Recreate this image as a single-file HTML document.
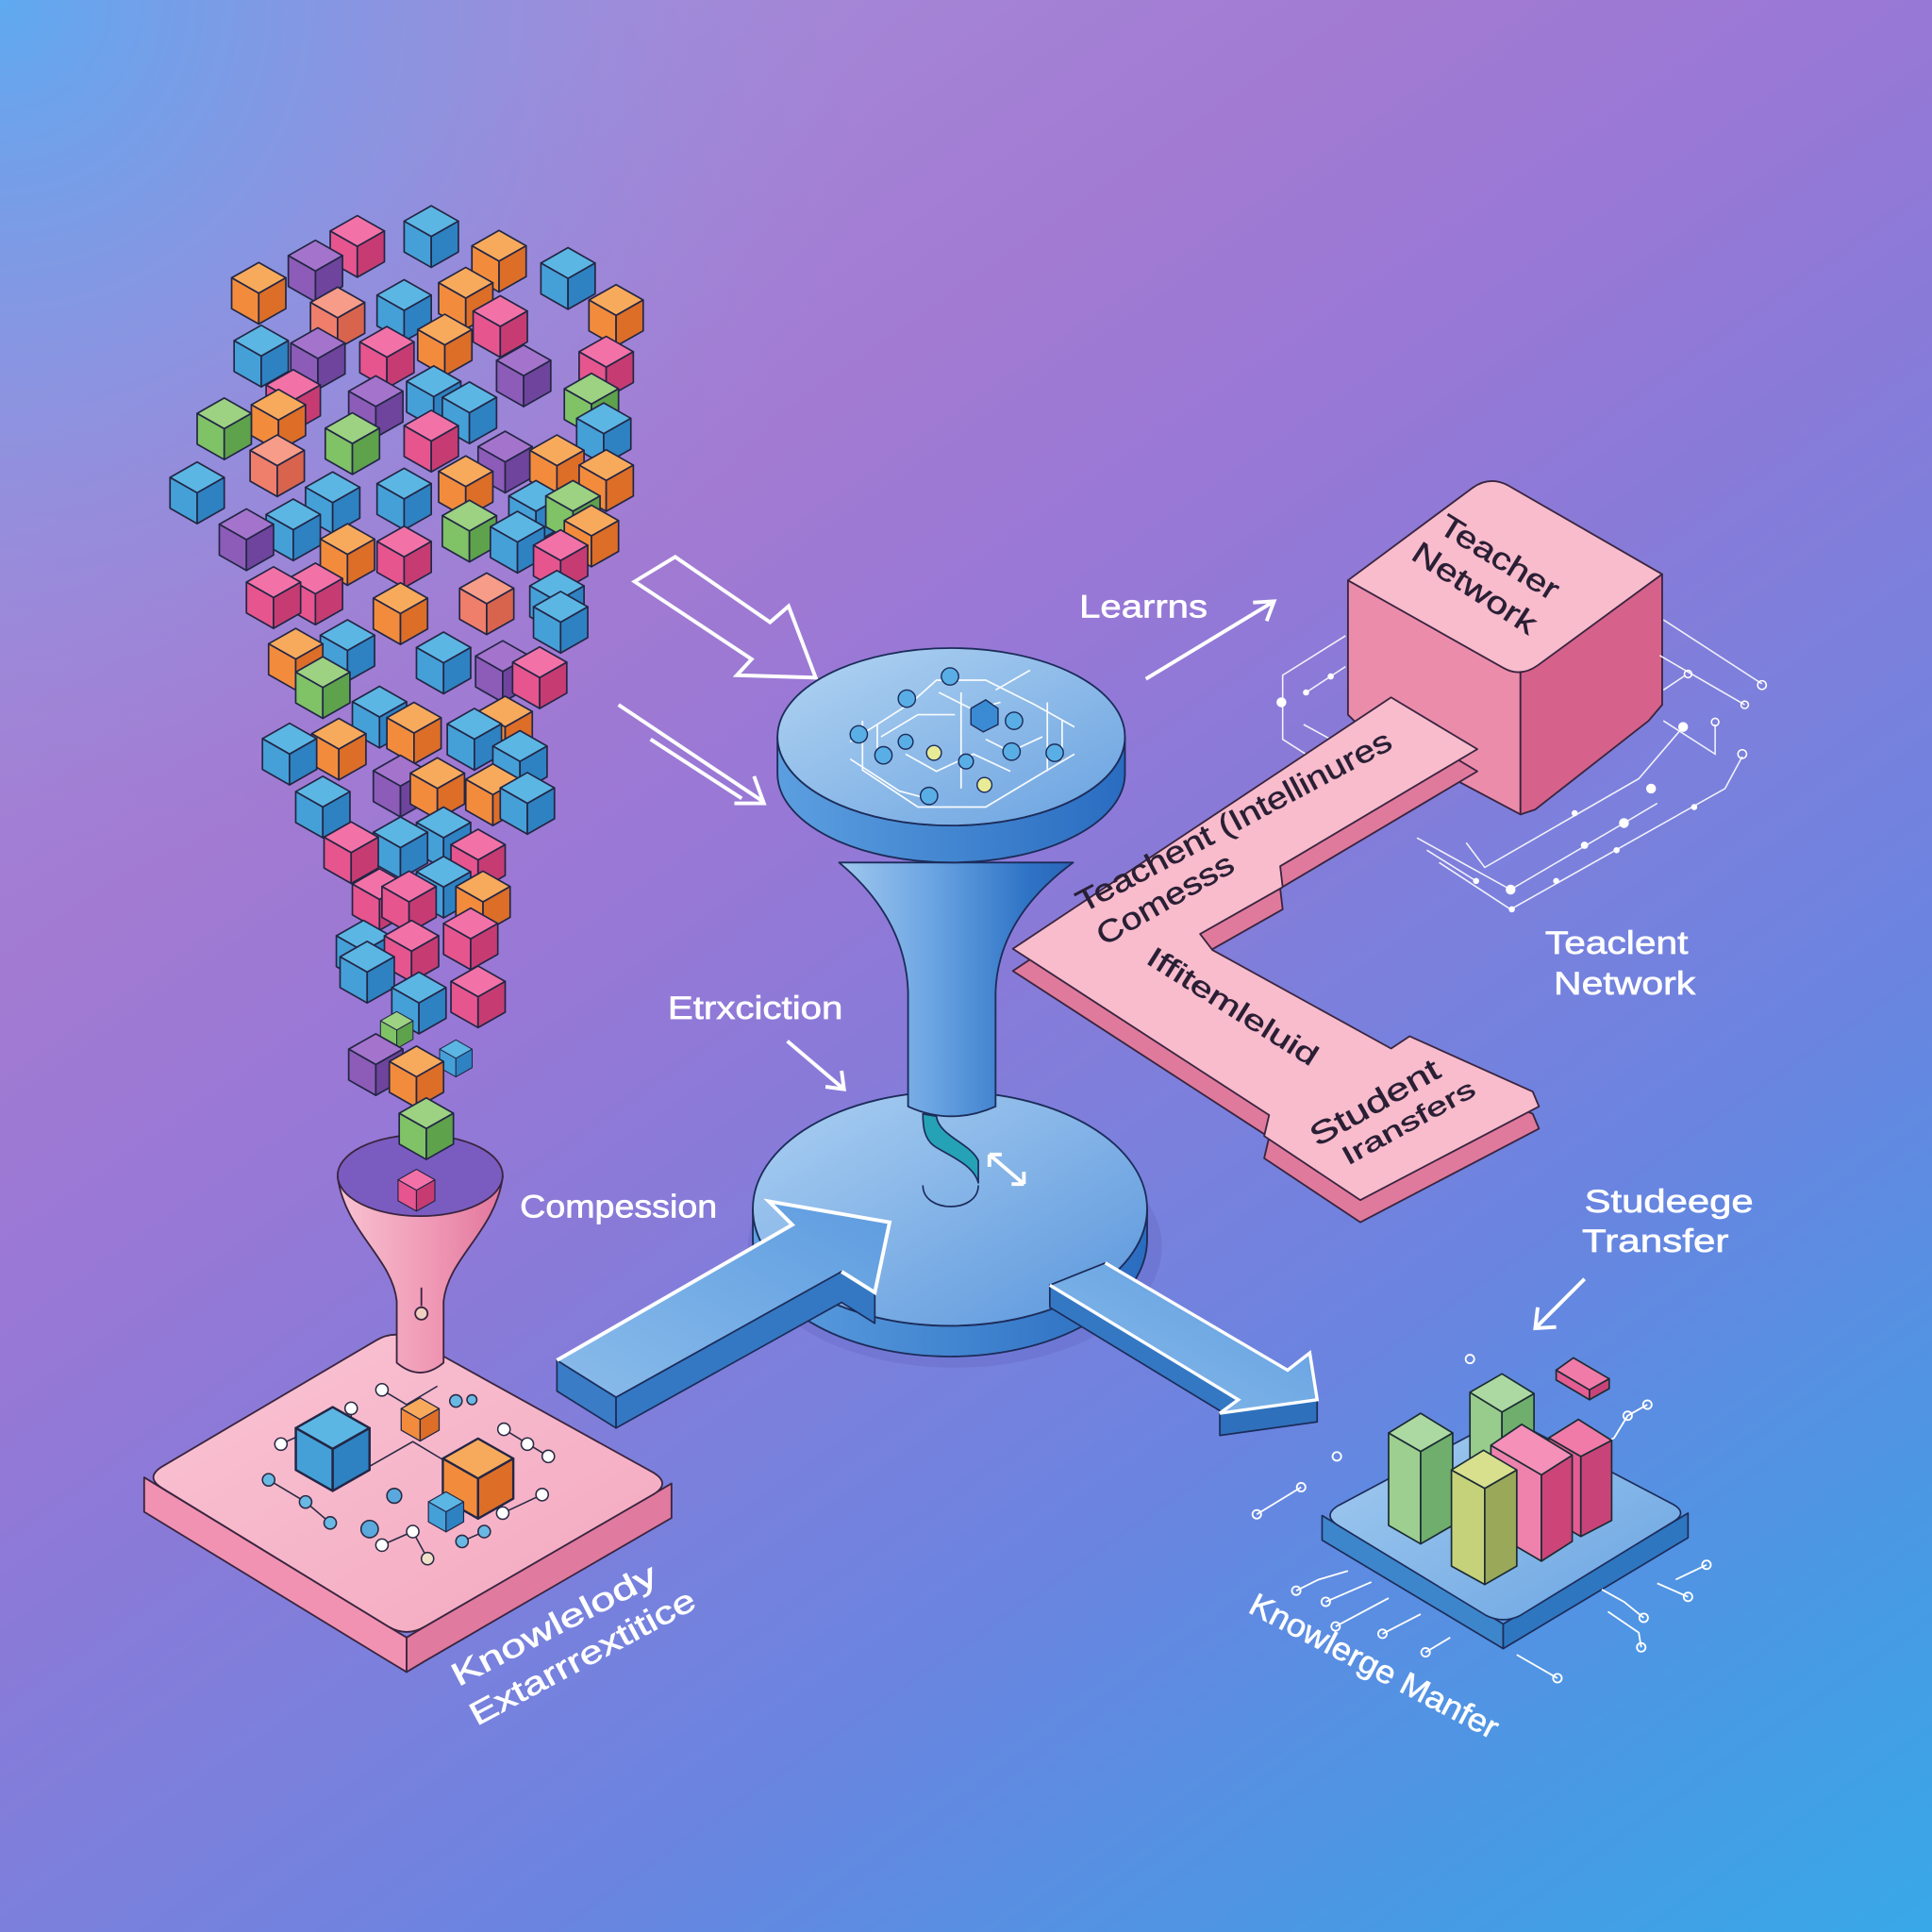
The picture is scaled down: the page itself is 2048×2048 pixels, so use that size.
<!DOCTYPE html>
<html><head><meta charset="utf-8"><style>html,body{margin:0;padding:0;width:2048px;height:2048px;overflow:hidden}svg{display:block}</style></head>
<body>
<svg width="2048" height="2048" viewBox="0 0 1568 1568" xmlns="http://www.w3.org/2000/svg" xmlns:xlink="http://www.w3.org/1999/xlink" font-family="'Liberation Sans', sans-serif">
<defs>
<linearGradient id="bg" x1="0.3" y1="0" x2="1" y2="1">
<stop offset="0" stop-color="#a68ad8"/><stop offset="0.2" stop-color="#a27ad2"/><stop offset="0.33" stop-color="#9878d6"/><stop offset="0.43" stop-color="#8a7ad8"/><stop offset="0.53" stop-color="#7c80dc"/><stop offset="0.66" stop-color="#6a84e0"/><stop offset="0.85" stop-color="#4a98e4"/><stop offset="1" stop-color="#38a8e8"/>
</linearGradient>
<radialGradient id="tl" cx="0" cy="0" r="720" gradientUnits="userSpaceOnUse">
<stop offset="0" stop-color="#5eaaf0" stop-opacity="1"/><stop offset="0.5" stop-color="#7a9ae6" stop-opacity="0.5"/><stop offset="1" stop-color="#9a8ad8" stop-opacity="0"/>
</radialGradient>
<linearGradient id="funnel" x1="0" y1="0" x2="1" y2="0"><stop offset="0" stop-color="#f8c2d2"/><stop offset="0.55" stop-color="#f09ab6"/><stop offset="1" stop-color="#e2769c"/></linearGradient>
<linearGradient id="btop" x1="0" y1="0" x2="1" y2="1"><stop offset="0" stop-color="#b2d4f2"/><stop offset="1" stop-color="#6aa2e0"/></linearGradient>
<linearGradient id="bside" x1="0" y1="0" x2="1" y2="0"><stop offset="0" stop-color="#5c9fe0"/><stop offset="1" stop-color="#2a6cc0"/></linearGradient>
<linearGradient id="stem" x1="0" y1="0" x2="1" y2="0"><stop offset="0" stop-color="#a0c8ee"/><stop offset="0.4" stop-color="#6aa4e2"/><stop offset="0.8" stop-color="#2f74c6"/><stop offset="1" stop-color="#2a66b8"/></linearGradient>
<linearGradient id="basetop" x1="0" y1="0" x2="1" y2="1"><stop offset="0" stop-color="#acd0f2"/><stop offset="1" stop-color="#5a96dc"/></linearGradient>
<linearGradient id="arrowtop" x1="0" y1="1" x2="1" y2="0"><stop offset="0" stop-color="#8abcea"/><stop offset="1" stop-color="#5e9ce0"/></linearGradient>
<linearGradient id="ptop" x1="0" y1="0" x2="1" y2="1"><stop offset="0" stop-color="#f9c4d4"/><stop offset="1" stop-color="#f4a8c0"/></linearGradient>
<linearGradient id="bartop" x1="0" y1="0" x2="1" y2="1"><stop offset="0" stop-color="#a4ccf0"/><stop offset="1" stop-color="#6aa4e2"/></linearGradient>

<g id="cB"><path d="M0,-25L22,-12.5L0,0L-22,-12.5Z" fill="#5cb6e4"/><path d="M-22,-12.5L0,0L0,25L-22,12.5Z" fill="#45a0d8"/><path d="M0,0L22,-12.5L22,12.5L0,25Z" fill="#2e82c2"/></g>
<g id="cO"><path d="M0,-25L22,-12.5L0,0L-22,-12.5Z" fill="#f8aa5c"/><path d="M-22,-12.5L0,0L0,25L-22,12.5Z" fill="#f28c3c"/><path d="M0,0L22,-12.5L22,12.5L0,25Z" fill="#dc6e28"/></g>
<g id="cP"><path d="M0,-25L22,-12.5L0,0L-22,-12.5Z" fill="#f272a8"/><path d="M-22,-12.5L0,0L0,25L-22,12.5Z" fill="#e6558e"/><path d="M0,0L22,-12.5L22,12.5L0,25Z" fill="#c63c72"/></g>
<g id="cU"><path d="M0,-25L22,-12.5L0,0L-22,-12.5Z" fill="#a474cc"/><path d="M-22,-12.5L0,0L0,25L-22,12.5Z" fill="#8c5cb8"/><path d="M0,0L22,-12.5L22,12.5L0,25Z" fill="#6e449c"/></g>
<g id="cG"><path d="M0,-25L22,-12.5L0,0L-22,-12.5Z" fill="#9cd282"/><path d="M-22,-12.5L0,0L0,25L-22,12.5Z" fill="#80c266"/><path d="M0,0L22,-12.5L22,12.5L0,25Z" fill="#5ea24c"/></g>
<g id="cS"><path d="M0,-25L22,-12.5L0,0L-22,-12.5Z" fill="#f69c88"/><path d="M-22,-12.5L0,0L0,25L-22,12.5Z" fill="#ef7e6a"/><path d="M0,0L22,-12.5L22,12.5L0,25Z" fill="#d8644e"/></g>
</defs>

<!-- background -->
<rect width="1568" height="1568" fill="url(#bg)"/>
<rect width="1568" height="1568" fill="url(#tl)"/>

<!-- ===== Pink platform (bottom-left) ===== -->
<g stroke="#3a2540" stroke-width="1.4" stroke-linejoin="round">
<polygon points="117,1199 315,1320 330,1329 330,1357 315,1348 117,1227" fill="#f192b2"/>
<polygon points="330,1329 345,1320 545,1204 545,1232 345,1348 330,1357" fill="#e07a9e"/>
<path d="M132,1190 L305,1088 Q320,1079 335,1087 L530,1195 Q545,1204 530,1213 L345,1320 Q330,1329 315,1320 L132,1208 Q117,1199 132,1190 Z" fill="url(#ptop)"/>
</g>
<!-- platform details -->
<g stroke="#2a2a44" stroke-width="1.2" fill="none">
<path d="M310,1128 L330,1140 L355,1125"/><path d="M228,1172 L250,1162"/><path d="M218,1201 L248,1219 L268,1236"/><path d="M310,1254 L335,1243"/><path d="M375,1251 L393,1243"/><path d="M408,1228 L440,1213"/><path d="M409,1160 L445,1182"/><path d="M300,1190 L335,1170 L360,1185"/><path d="M347,1265 L335,1243"/><path d="M285,1143 L285,1155"/>
</g>
<g stroke="#2a2a44" stroke-width="1.2">
<circle cx="310" cy="1128" r="5" fill="#fff"/><circle cx="285" cy="1143" r="5" fill="#fff"/><circle cx="228" cy="1172" r="5" fill="#fff"/><circle cx="218" cy="1201" r="5" fill="#6ab8e4"/><circle cx="248" cy="1219" r="5" fill="#6ab8e4"/><circle cx="268" cy="1236" r="5" fill="#6ab8e4"/><circle cx="310" cy="1254" r="5" fill="#fff"/><circle cx="347" cy="1265" r="5" fill="#f0e0c8"/><circle cx="335" cy="1243" r="5" fill="#fff"/><circle cx="375" cy="1251" r="5" fill="#6ab8e4"/><circle cx="393" cy="1243" r="5" fill="#6ab8e4"/><circle cx="408" cy="1228" r="5" fill="#fff"/><circle cx="440" cy="1213" r="5" fill="#fff"/><circle cx="409" cy="1160" r="5" fill="#fff"/><circle cx="445" cy="1182" r="5" fill="#fff"/><circle cx="428" cy="1172" r="5" fill="#fff"/><circle cx="370" cy="1137" r="5" fill="#6ab8e4"/><circle cx="383" cy="1136" r="4" fill="#6ab8e4"/><circle cx="300" cy="1241" r="7" fill="#5aa8dc"/><circle cx="320" cy="1214" r="6" fill="#5aa8dc"/>
</g>
<g stroke="#232645" stroke-width="1.4" stroke-linejoin="round">
<use href="#cB" transform="translate(270,1176) scale(1.36)"/>
<use href="#cO" transform="translate(341,1152) scale(0.7)"/>
<use href="#cO" transform="translate(388,1200) scale(1.3)"/>
<use href="#cB" transform="translate(362,1227) scale(0.65)"/>
</g>

<!-- ===== cube cloud ===== -->
<g stroke="#232645" stroke-width="1.3" stroke-linejoin="round">
<use href="#cB" x="350" y="192"/><use href="#cP" x="290" y="200"/><use href="#cO" x="405" y="212"/><use href="#cU" x="256" y="220"/><use href="#cB" x="461" y="226"/><use href="#cO" x="210" y="238"/><use href="#cO" x="378" y="242"/><use href="#cB" x="328" y="252"/><use href="#cO" x="500" y="256"/><use href="#cS" x="274" y="258"/><use href="#cP" x="406" y="265"/><use href="#cO" x="361" y="280"/><use href="#cB" x="212" y="289"/><use href="#cP" x="314" y="290"/><use href="#cU" x="258" y="291"/><use href="#cP" x="492" y="298"/><use href="#cU" x="425" y="305"/><use href="#cB" x="352" y="322"/><use href="#cP" x="238" y="325"/><use href="#cG" x="480" y="328"/><use href="#cU" x="305" y="330"/><use href="#cB" x="381" y="335"/><use href="#cO" x="226" y="341"/><use href="#cG" x="182" y="348"/><use href="#cB" x="490" y="352"/><use href="#cP" x="350" y="358"/><use href="#cG" x="286" y="360"/><use href="#cU" x="410" y="375"/><use href="#cS" x="225" y="378"/><use href="#cO" x="452" y="378"/><use href="#cO" x="492" y="390"/><use href="#cO" x="378" y="395"/><use href="#cB" x="160" y="400"/><use href="#cB" x="328" y="405"/><use href="#cB" x="270" y="408"/><use href="#cB" x="435" y="415"/><use href="#cG" x="465" y="415"/><use href="#cB" x="238" y="430"/><use href="#cG" x="381" y="431"/><use href="#cO" x="480" y="435"/><use href="#cU" x="200" y="438"/><use href="#cB" x="420" y="440"/><use href="#cO" x="282" y="450"/><use href="#cP" x="328" y="452"/><use href="#cP" x="455" y="455"/><use href="#cP" x="256" y="482"/><use href="#cP" x="222" y="485"/><use href="#cB" x="452" y="488"/><use href="#cS" x="395" y="490"/><use href="#cO" x="325" y="498"/><use href="#cB" x="455" y="505"/><use href="#cB" x="282" y="528"/><use href="#cO" x="240" y="535"/><use href="#cB" x="360" y="538"/><use href="#cU" x="408" y="545"/><use href="#cP" x="438" y="550"/><use href="#cG" x="262" y="558"/><use href="#cB" x="308" y="582"/><use href="#cO" x="410" y="590"/><use href="#cO" x="336" y="595"/><use href="#cB" x="385" y="600"/><use href="#cO" x="275" y="608"/><use href="#cB" x="235" y="612"/><use href="#cB" x="422" y="618"/><use href="#cU" x="325" y="638"/><use href="#cO" x="355" y="640"/><use href="#cO" x="400" y="645"/><use href="#cB" x="428" y="652"/><use href="#cB" x="262" y="655"/><use href="#cB" x="360" y="680"/><use href="#cB" x="325" y="688"/><use href="#cP" x="285" y="692"/><use href="#cP" x="388" y="698"/><use href="#cB" x="360" y="720"/><use href="#cP" x="308" y="730"/><use href="#cP" x="332" y="732"/><use href="#cO" x="392" y="732"/><use href="#cP" x="382" y="762"/><use href="#cB" x="295" y="772"/><use href="#cP" x="334" y="772"/><use href="#cB" x="298" y="789"/><use href="#cP" x="388" y="809"/><use href="#cB" x="340" y="814"/>
<use href="#cG" transform="translate(322,836) scale(0.6)"/><use href="#cB" transform="translate(370,859) scale(0.6)"/><use href="#cU" x="305" y="864"/><use href="#cO" x="338" y="874"/>
</g>

<!-- ===== Funnel ===== -->
<g stroke="#3a2540" stroke-width="1.4" stroke-linejoin="round">
<path d="M274,955 C280,1000 318,1020 322,1056 L322,1106 Q341,1122 360,1106 L360,1056 C364,1020 402,1000 408,955 Z" fill="url(#funnel)"/>
<ellipse cx="341" cy="954" rx="67" ry="33" fill="#7a5cc0"/>
<circle cx="342" cy="1066" r="5" fill="#f0d0c0"/><path d="M342,1060 L342,1045" fill="none"/>
</g>
<g stroke="#232645" stroke-width="1.3" stroke-linejoin="round">
<use href="#cP" transform="translate(338,966) scale(0.68)"/>
<use href="#cG" x="346" y="916"/>
</g>

<!-- ===== white outline arrows (top-left) ===== -->
<g fill="none" stroke="#ffffff" stroke-width="3" stroke-linejoin="miter">
<polygon points="515,472 548,452 625,505 640,492 662,550 598,548 610,535"/>
<path d="M502,572 L620,651"/><path d="M528,600 L602,648"/><path d="M596,652 L620,652 L612,630"/>
<path d="M639,845 L685,884"/><path d="M670,882 L685,884 L683,869"/>
<path d="M930,551 L1034,488"/><path d="M1017,489 L1034,488 L1028,504"/>
<path d="M1286,1038 L1246,1078"/><path d="M1248,1061 L1246,1078 L1263,1077"/>
</g>

<!-- ===== Teacher box ===== -->
<g stroke="#3a2540" stroke-width="1.4" stroke-linejoin="round">
<polygon points="1094,471 1234,546 1234,661 1108,594 1094,580" fill="#ec8cab"/>
<polygon points="1234,546 1349,466 1349,572 1338,585 1246,657 1234,661" fill="#d6618b"/>
<path d="M1094,471 L1195,396 Q1209,386 1224,394 L1349,466 L1248,540 Q1234,550 1220,542 Z" fill="#f8bccd"/>
</g>
<!-- teacher circuits -->
<g stroke="#ffffff" stroke-width="1.2" fill="none" opacity="0.9">
<path d="M1092,516 L1041,548 L1041,600 L1066,616"/><path d="M1060,562 L1092,541"/><path d="M1058,588 L1080,600"/>
<path d="M1150,680 L1226,722 L1318,668 L1345,652"/><path d="M1168,700 L1226,738 L1400,640 L1414,614"/>
<path d="M1190,684 L1205,704 L1330,632 L1366,590"/><path d="M1158,690 L1198,715"/>
<path d="M1350,503 L1430,555"/><path d="M1347,532 L1416,572"/><path d="M1350,585 L1392,612 L1392,588"/><path d="M1350,560 L1368,548"/>
</g>
<g fill="#ffffff">
<circle cx="1040" cy="570" r="4"/><circle cx="1060" cy="562" r="2.5"/><circle cx="1080" cy="549" r="2.5"/><circle cx="1226" cy="722" r="4"/><circle cx="1286" cy="686" r="3"/><circle cx="1318" cy="668" r="4"/><circle cx="1340" cy="640" r="4"/><circle cx="1366" cy="590" r="4"/><circle cx="1198" cy="715" r="2.5"/><circle cx="1278" cy="660" r="2.5"/><circle cx="1227" cy="738" r="2.5"/><circle cx="1375" cy="655" r="2.5"/><circle cx="1312" cy="690" r="2.5"/><circle cx="1263" cy="715" r="2.5"/>
</g>
<g stroke="#ffffff" stroke-width="1.2" fill="none"><circle cx="1430" cy="556" r="3.5"/><circle cx="1414" cy="612" r="3.5"/><circle cx="1392" cy="586" r="3"/><circle cx="1416" cy="572" r="3"/><circle cx="1370" cy="547" r="3"/></g>

<!-- ===== Pink ribbon ===== -->
<g stroke="#3a2540" stroke-width="1.4" stroke-linejoin="round">
<polygon transform="translate(0,18)" points="822,770 1129,566 1199,608 1039,703 1041,720 974,758 984,771 1129,851 1144,841 1244,886 1249,898 1104,974 1026,922 1030,905" fill="#e07a9c"/>
<polygon points="822,770 1129,566 1199,608 1039,703 1041,720 974,758 984,771 1129,851 1144,841 1244,886 1249,898 1104,974 1026,922 1030,905" fill="#f8bccd"/>
</g>

<!-- ===== Blue base disk ===== -->
<ellipse cx="775" cy="1012" rx="168" ry="98" fill="#5a5ab8" opacity="0.25"/>
<g stroke="#1c2c5a" stroke-width="1.4" stroke-linejoin="round">
<path d="M611,981 L611,1006 A160,95 0 0 0 931,1006 L931,981 A160,95 0 0 1 611,981 Z" fill="url(#bside)"/>
<ellipse cx="771" cy="981" rx="160" ry="95" fill="url(#basetop)"/>
</g>

<!-- ===== Stem ===== -->
<g stroke="#1c2c5a" stroke-width="1.4" stroke-linejoin="round">
<path d="M681,700 Q735,745 737,805 L737,898 Q772,914 808,898 L808,805 Q810,745 871,700 Z" fill="url(#stem)"/>
</g>
<!-- teal ribbon & J -->
<g stroke="#1c2c5a" stroke-width="1.3" stroke-linejoin="round">
<path d="M749,904 L760,906 C762,922 788,928 794,942 L794,960 C790,945 770,938 758,930 C750,924 749,914 749,904 Z" fill="#26a2b6"/>
<path d="M749,962 C749,985 794,985 794,962" fill="none"/>
</g>
<g fill="none" stroke="#ffffff" stroke-width="3"><path d="M803,937 L831,961"/><path d="M803,937 L803,947 M803,937 L813,937"/><path d="M831,961 L831,951 M831,961 L821,961"/></g>

<!-- ===== Top disk ===== -->
<g stroke="#1c2c5a" stroke-width="1.4" stroke-linejoin="round">
<path d="M631,598 L631,628 A141,72 0 0 0 913,628 L913,598 A141,72 0 0 1 631,598 Z" fill="url(#bside)"/>
<ellipse cx="772" cy="598" rx="141" ry="72" fill="url(#btop)"/>
</g>
<g stroke="#ffffff" stroke-width="1.3" fill="none" opacity="0.95">
<path d="M700,585 L700,625 L745,655 L800,655 L845,628 L872,612"/>
<path d="M690,602 L740,570 L760,552 L800,552 L840,572 L872,590"/>
<path d="M715,598 L745,580 L775,580"/><path d="M735,612 L760,626 L790,612 L820,626"/>
<path d="M762,562 L790,576 L812,570"/><path d="M800,600 L820,610 L846,598"/>
<path d="M850,570 L850,626"/><path d="M862,585 L862,616"/><path d="M690,616 L730,642 L760,650"/>
<path d="M712,588 L712,612"/><path d="M780,562 L780,640"/><path d="M808,560 L836,544"/>
</g>
<g stroke="#1c2c5a" stroke-width="1.1">
<circle cx="771" cy="549" r="7" fill="#5aaee6"/><circle cx="736" cy="567" r="7" fill="#5aaee6"/><circle cx="697" cy="596" r="7" fill="#5aaee6"/><circle cx="717" cy="613" r="7" fill="#5aaee6"/><circle cx="823" cy="585" r="7" fill="#5aaee6"/><circle cx="821" cy="610" r="7" fill="#5aaee6"/><circle cx="856" cy="611" r="7" fill="#5aaee6"/><circle cx="754" cy="646" r="7" fill="#5aaee6"/><circle cx="784" cy="618" r="6" fill="#5aaee6"/><circle cx="735" cy="602" r="6" fill="#5aaee6"/><circle cx="799" cy="637" r="6" fill="#e8ec96"/><circle cx="758" cy="611" r="6" fill="#e8ec96"/>
<path d="M788,575 L800,568 L810,575 L810,588 L798,594 L788,588 Z" fill="#3a8ad4"/>
</g>

<!-- ===== Arrow into base ===== -->
<g stroke="#1c2c5a" stroke-width="1.3" stroke-linejoin="round">
<polygon points="452,1104 500,1134 500,1159 452,1129" fill="#3a7cc6"/>
<polygon points="500,1134 683,1032 710,1049 710,1074 683,1057 500,1159" fill="#3478c4"/>
<polygon points="452,1104 643,994 624,975 722,992 710,1049 683,1032 500,1134" fill="url(#arrowtop)"/>
</g>
<path d="M452,1104 L643,994 L624,975 L722,992 L710,1049 L683,1032" fill="none" stroke="#ffffff" stroke-width="3" stroke-linejoin="miter"/>

<!-- ===== Arrow out to bars ===== -->
<g stroke="#1c2c5a" stroke-width="1.3" stroke-linejoin="round">
<polygon points="852,1043 1005,1136 1005,1154 852,1061" fill="#3478c4"/>
<polygon points="990,1147 1069,1136 1069,1154 990,1165" fill="#2e70bc"/>
<polygon points="852,1043 897,1025 1045,1112 1063,1098 1069,1136 990,1147 1005,1136" fill="url(#arrowtop)"/>
</g>
<path d="M897,1025 L1045,1112 L1063,1098 L1069,1136 L990,1147 L1005,1136 L852,1043" fill="none" stroke="#ffffff" stroke-width="2.6" stroke-linejoin="miter"/>

<!-- ===== Bars platform ===== -->
<g stroke="#1c2c5a" stroke-width="1.3" stroke-linejoin="round">
<polygon points="1073,1230 1220,1318 1220,1338 1073,1250" fill="#3d86cc"/>
<polygon points="1220,1318 1370,1228 1370,1248 1220,1338" fill="#2f76c0"/>
<path d="M1086,1222 L1208,1157 Q1222,1150 1236,1157 L1358,1221 Q1370,1228 1358,1235 L1234,1311 Q1220,1318 1206,1311 L1086,1238 Q1073,1230 1086,1222 Z" fill="url(#bartop)"/>
</g>
<g stroke="#ffffff" stroke-width="1.4" fill="none">
<path d="M1020,1229 L1056,1207"/><path d="M1052,1291 L1070,1282 L1094,1275"/><path d="M1076,1300 L1113,1284"/><path d="M1084,1320 L1127,1297"/><path d="M1122,1326 L1153,1310"/><path d="M1157,1341 L1177,1329"/><path d="M1264,1362 L1231,1343"/><path d="M1337,1140 L1321,1149 L1310,1167 L1295,1175"/><path d="M1334,1313 L1318,1300 L1300,1290"/><path d="M1332,1337 L1330,1325 L1305,1308"/><path d="M1385,1270 L1360,1282"/><path d="M1370,1296 L1345,1285"/>
<circle cx="1020" cy="1229" r="3.5"/><circle cx="1056" cy="1207" r="3.5"/><circle cx="1085" cy="1182" r="3.5"/><circle cx="1193" cy="1103" r="3.5"/><circle cx="1052" cy="1291" r="3.5"/><circle cx="1076" cy="1300" r="3.5"/><circle cx="1084" cy="1320" r="3.5"/><circle cx="1122" cy="1326" r="3.5"/><circle cx="1157" cy="1341" r="3.5"/><circle cx="1264" cy="1362" r="3.5"/><circle cx="1337" cy="1140" r="3.5"/><circle cx="1321" cy="1149" r="3.5"/><circle cx="1334" cy="1313" r="3.5"/><circle cx="1332" cy="1337" r="3.5"/><circle cx="1385" cy="1270" r="3.5"/><circle cx="1370" cy="1296" r="3.5"/>
</g>
<!-- bars -->
<g stroke="#1c2c34" stroke-width="1.3" stroke-linejoin="round">
<!-- green2 -->
<polygon points="1193,1130 1219,1146 1219,1231 1193,1215" fill="#98cc8c"/><polygon points="1219,1146 1245,1131 1245,1216 1219,1231" fill="#6fae6c"/><polygon points="1193,1130 1219,1115 1245,1131 1219,1146" fill="#acd9a2"/>
<!-- small pink -->
<polygon points="1263,1112 1290,1128 1290,1136 1263,1120" fill="#e45d92"/><polygon points="1290,1128 1306,1119 1306,1127 1290,1136" fill="#c84478"/><polygon points="1263,1112 1277,1102 1306,1119 1290,1128" fill="#f07aa8"/>
<!-- pink2 -->
<polygon points="1257,1167 1283,1182 1283,1247 1257,1232" fill="#e45d92"/><polygon points="1283,1182 1308,1169 1308,1234 1283,1247" fill="#c84478"/><polygon points="1257,1167 1281,1152 1308,1169 1283,1182" fill="#f07aa8"/>
<!-- green1 -->
<polygon points="1127,1163 1153,1178 1153,1253 1127,1238" fill="#9ccf90"/><polygon points="1153,1178 1179,1163 1179,1238 1153,1253" fill="#6fae6c"/><polygon points="1127,1163 1153,1147 1179,1163 1153,1178" fill="#acd9a2"/>
<!-- pink1 -->
<polygon points="1210,1173 1251,1197 1251,1267 1210,1243" fill="#ee82ad"/><polygon points="1251,1197 1276,1181 1276,1251 1251,1267" fill="#cc4478"/><polygon points="1210,1173 1235,1156 1276,1181 1251,1197" fill="#f590b8"/>
<!-- yellow -->
<polygon points="1178,1193 1205,1208 1205,1286 1178,1271" fill="#c6d27a"/><polygon points="1205,1208 1231,1193 1231,1271 1205,1286" fill="#9aa85a"/><polygon points="1178,1193 1204,1177 1231,1193 1205,1208" fill="#d8e08e"/>
</g>

<!-- ===== Labels (white) ===== -->
<g fill="#ffffff" stroke="#ffffff" stroke-width="0.5" font-size="26">
<text x="876" y="501" textLength="104" lengthAdjust="spacingAndGlyphs">Learrns</text>
<text x="542" y="827" textLength="142" lengthAdjust="spacingAndGlyphs">Etrxciction</text>
<text x="422" y="988" textLength="160" lengthAdjust="spacingAndGlyphs">Compession</text>
<text x="1254" y="774" textLength="116" lengthAdjust="spacingAndGlyphs">Teaclent</text>
<text x="1261" y="807" textLength="115" lengthAdjust="spacingAndGlyphs">Network</text>
<text x="1286" y="984" textLength="137" lengthAdjust="spacingAndGlyphs">Studeege</text>
<text x="1284" y="1016" textLength="119" lengthAdjust="spacingAndGlyphs">Transfer</text>
<text transform="translate(372,1369) rotate(-27.5)" textLength="184" lengthAdjust="spacingAndGlyphs">Knowlelody</text>
<text transform="translate(387,1401) rotate(-28.3)" textLength="204" lengthAdjust="spacingAndGlyphs">Extarrrextitice</text>
<text transform="translate(1012,1308) rotate(27.6)" textLength="224" lengthAdjust="spacingAndGlyphs">Knowlerge Manfer</text>
</g>

<!-- ===== Labels (dark, on pink) ===== -->
<g fill="#2a1f35" stroke="#2a1f35" stroke-width="0.4" font-size="25">
<text transform="translate(1166,431) rotate(31.5)" textLength="109" lengthAdjust="spacingAndGlyphs">Teacher</text>
<text transform="translate(1144,453) rotate(33)" textLength="115" lengthAdjust="spacingAndGlyphs">Network</text>
<text transform="translate(879,741) rotate(-28)" textLength="286" lengthAdjust="spacingAndGlyphs">Teachent (Intellinures</text>
<text transform="translate(896,768) rotate(-29.9)" textLength="124" lengthAdjust="spacingAndGlyphs">Comesss</text>
<text transform="translate(929,781) rotate(32.2)" font-size="23" textLength="159" lengthAdjust="spacingAndGlyphs">Iffitemleluid</text>
<text transform="translate(1069,931) rotate(-29.6)" textLength="117" lengthAdjust="spacingAndGlyphs">Student</text>
<text transform="translate(1094,946) rotate(-28.9)" font-size="21" textLength="120" lengthAdjust="spacingAndGlyphs">Iransfers</text>
</g>
</svg>
</body></html>
